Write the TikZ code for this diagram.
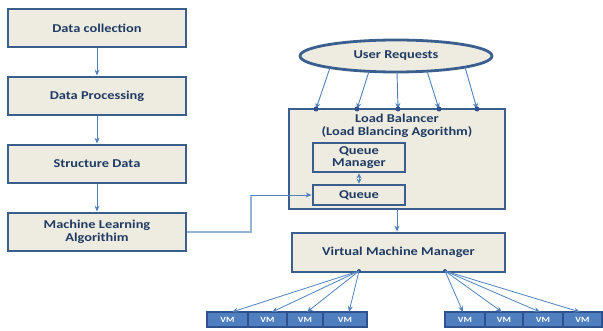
\documentclass[tikz,border=0pt]{standalone}
\usepackage{fontspec}
\setmainfont{Carlito}[FakeStretch=1.2]
\usetikzlibrary{arrows.meta,shapes.geometric,calc}
\definecolor{boxfill}{HTML}{EEECE1}
\definecolor{boxline}{HTML}{3A5F8F}
\definecolor{txt}{HTML}{1F3B63}
\definecolor{arr}{HTML}{4F81BD}
\definecolor{arrlight}{HTML}{95B3D7}
\definecolor{vmfill}{HTML}{4F7FBE}
\definecolor{vmline}{HTML}{2F528F}
\begin{document}
\begin{tikzpicture}[x=1pt,y=-1pt,
  box/.style={draw=boxline,line width=2.8pt,fill=boxfill,inner sep=0pt,align=center,
    font=\fontsize{12}{13}\selectfont\bfseries,text=txt},
  vm/.style={draw=vmline,line width=1.4pt,fill=vmfill,inner sep=0pt,minimum height=15pt,
    font=\fontsize{8}{9}\selectfont\bfseries,text=white},
  link/.style={draw=arr,line width=0.9pt,-{Stealth[length=6pt,width=5pt]}},
  dot/.style={circle,fill=vmline,inner sep=0pt,minimum size=5pt}]
\useasboundingbox (0,0) rectangle (603,331);
% left chain
\node[box,minimum width=178pt,minimum height=38pt] (dc) at (97,28) {Data collection};
\node[box,minimum width=178pt,minimum height=38pt] (dp) at (97,96) {Data Processing};
\node[box,minimum width=178pt,minimum height=38pt] (sd) at (97,164) {Structure Data};
\node[box,minimum width=178pt,minimum height=38pt] (ml) at (97,232) {Machine Learning\\Algorithim};
\draw[link] (dc) -- (dp);
\draw[link] (dp) -- (sd);
\draw[link] (sd) -- (ml);
% user requests
\node[box,ellipse,minimum width=192pt,minimum height=32pt] (ur) at (396,56) {User Requests};
% load balancer
\node[box,minimum width=216pt,minimum height=100pt] (lb) at (397,159) {};
\node[font=\fontsize{12}{13}\selectfont\bfseries,text=txt,align=center,inner sep=0pt] (lbt) at (397,125.5) {Load Balancer\\(Load Blancing Agorithm)};
\node[box,minimum width=92pt,minimum height=29pt,font=\fontsize{12}{12}\selectfont\bfseries] (qm) at (359,157.5) {Queue\\Manager};
\node[box,minimum width=92pt,minimum height=20pt] (q) at (359,195) {Queue};
\draw[draw=arr,line width=0.9pt,{Stealth[length=5pt,width=5pt]}-{Stealth[length=5pt,width=5pt]}] (qm) -- (q);
% arrows from user requests
\foreach \i/\sx/\sy/\ex in {1/330/67.6/316,2/369/71.4/357,3/397/72/398,4/427/71.1/439,5/465/67.1/477}{
  \coordinate (us\i) at (\sx,\sy);
  \coordinate (ue\i) at (\ex,109);
  \draw[link] (us\i) -- (ue\i);
  \node[dot] (ud\i) at (ue\i) {};
}
% ML to queue
\coordinate (bend1) at (251,232);
\coordinate (bend2) at (251,195);
\draw[draw=arrlight,line width=1.4pt] (ml.east) -- (bend1) -- (bend2);
\draw[link] (bend2) -- (q.west);
% VMM
\node[box,minimum width=213pt,minimum height=39pt] (vmm) at (398.5,252.5) {Virtual Machine Manager};
\coordinate (lbs) at (397,209);
\draw[link] (lbs) -- (lbs |- vmm.north);
% VMs
\node[vm,minimum width=41pt] (v1) at (227.5,319.5) {VM};
\node[vm,minimum width=39pt] (v2) at (267.5,319.5) {VM};
\node[vm,minimum width=36pt] (v3) at (305,319.5) {VM};
\node[vm,minimum width=44pt] (v4) at (345,319.5) {VM};
\node[vm,minimum width=40pt] (v5) at (465,319.5) {VM};
\node[vm,minimum width=38pt] (v6) at (504,319.5) {VM};
\node[vm,minimum width=40pt] (v7) at (543,319.5) {VM};
\node[vm,minimum width=39pt] (v8) at (582.5,319.5) {VM};
\coordinate (ol) at (359,271);
\coordinate (or) at (445,271);
\node[dot,minimum size=4pt] (dl) at (ol) {};
\node[dot,minimum size=4pt] (dr) at (or) {};
\foreach \v/\x in {v1/232,v2/272,v3/307,v4/349}{
  \draw[link,line width=0.8pt] (ol) -- (\x,312);
}
\foreach \v/\x in {v5/463,v6/502,v7/540,v8/580}{
  \draw[link,line width=0.8pt] (or) -- (\x,312);
}
\end{tikzpicture}
\end{document}
